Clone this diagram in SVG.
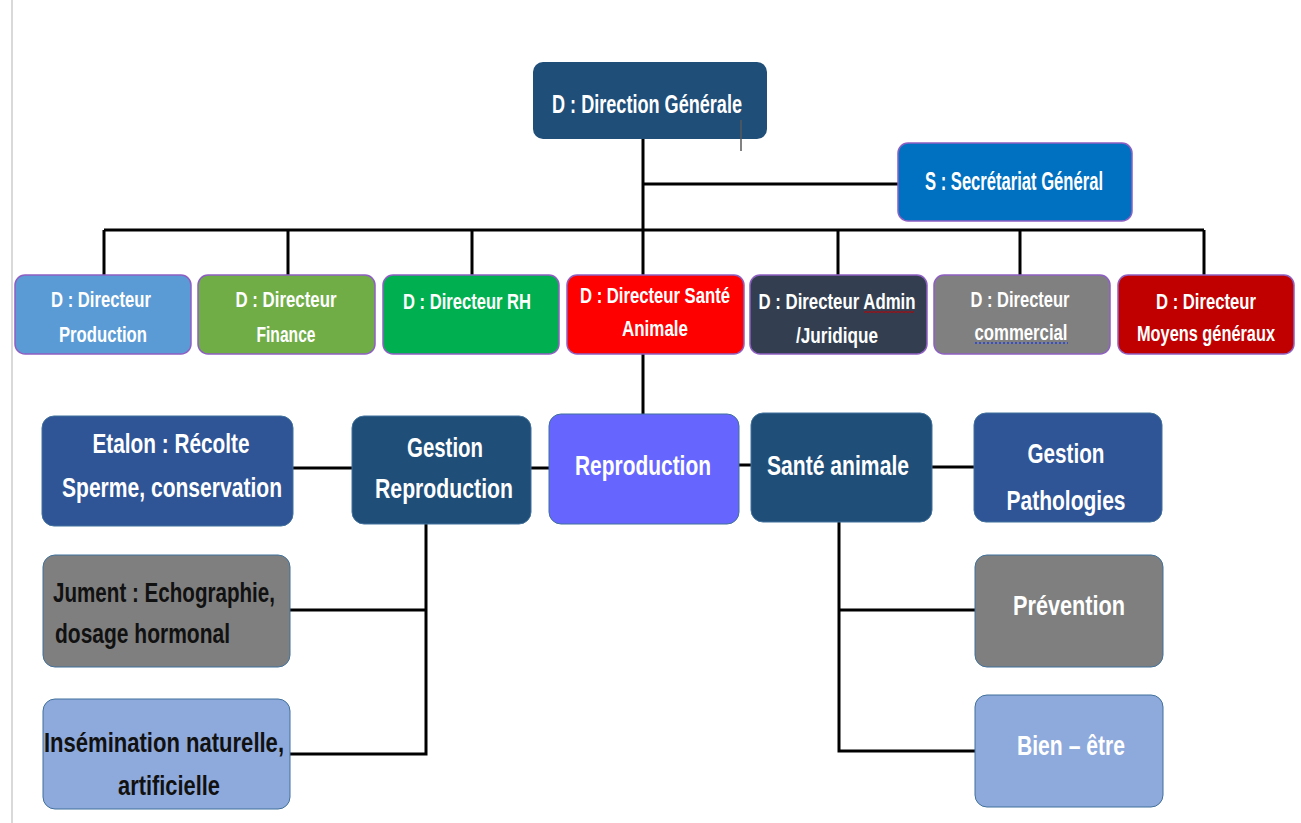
<svg xmlns="http://www.w3.org/2000/svg" width="1301" height="823" viewBox="0 0 1301 823">
<style>
text{font-family:"Liberation Sans",Arial,sans-serif;font-weight:bold;text-anchor:middle;fill:#fff}
.t{font-size:25px}
.s{font-size:22px}
.m{font-size:28px}
.dk{fill:#111}
.st{text-anchor:start}
.b2{stroke:#8e5fc2;stroke-width:1.5}
.b3{stroke:#41719c;stroke-width:1}
.c{stroke:#000;stroke-width:3;fill:none}
</style>
<rect width="1301" height="823" fill="#fff"/>
<line x1="12" y1="0" x2="12" y2="823" stroke="#d9d9d9" stroke-width="2"/>
<g id="connectors">
<path class="c" d="M643,139V230M643,184H898M104,230H1204M104,230V275M288,230V275M472,230V275M643,230V275M838,230V275M1020,230V275M1204,230V275"/>
<path class="c" d="M643,354V414M293,468H352M531,468H549M739,465H751M932,467H974"/>
<path class="c" d="M426,524V754H290M426,610H290M839,522V751H975M839,610H975"/>
</g>
<g id="n-dg"><rect x="533" y="62" width="234" height="77" rx="10" fill="#1f4e79"/><text class="t" x="647" y="113" textLength="190" lengthAdjust="spacingAndGlyphs">D : Direction Générale</text><line x1="741" y1="120" x2="741" y2="151" stroke="#595959" stroke-width="1.5"/></g>
<g id="n-sg"><rect x="898" y="143" width="234" height="78" rx="10" fill="#0070c0" class="b2"/><text class="t" x="1014" y="190" textLength="178" lengthAdjust="spacingAndGlyphs">S : Secrétariat Général</text></g>
<g id="n-prod"><rect x="15" y="275" width="176" height="79" rx="10" fill="#5b9bd5" class="b2"/><text class="s" x="101" y="307" textLength="100" lengthAdjust="spacingAndGlyphs">D : Directeur</text><text class="s" x="103" y="342" textLength="88" lengthAdjust="spacingAndGlyphs">Production</text></g>
<g id="n-fin"><rect x="198" y="275" width="177" height="79" rx="10" fill="#70ad47" class="b2"/><text class="s" x="286" y="307" textLength="101" lengthAdjust="spacingAndGlyphs">D : Directeur</text><text class="s" x="286" y="342" textLength="59" lengthAdjust="spacingAndGlyphs">Finance</text></g>
<g id="n-rh"><rect x="383" y="275" width="176" height="79" rx="10" fill="#00b050" class="b2"/><text class="s" x="467" y="309" textLength="128" lengthAdjust="spacingAndGlyphs">D : Directeur RH</text></g>
<g id="n-sante"><rect x="567" y="275" width="177" height="79" rx="10" fill="#ff0000" class="b2"/><text class="s" x="655" y="303" textLength="150" lengthAdjust="spacingAndGlyphs">D : Directeur Santé</text><text class="s" x="655" y="336" textLength="66" lengthAdjust="spacingAndGlyphs">Animale</text></g>
<g id="n-admin"><rect x="750" y="275" width="177" height="79" rx="10" fill="#333f50" class="b2"/><text class="s" x="837" y="309" textLength="157" lengthAdjust="spacingAndGlyphs">D : Directeur Admin</text><text class="s" x="837" y="343" textLength="82" lengthAdjust="spacingAndGlyphs">/Juridique</text><path d="M864,313l2,-2l2,2l2,-2l2,2l2,-2l2,2l2,-2l2,2l2,-2l2,2l2,-2l2,2l2,-2l2,2l2,-2l2,2l2,-2l2,2l2,-2l2,2l2,-2l2,2l2,-2l2,2l2,-2" fill="none" stroke="#c00000" stroke-width="1"/></g>
<g id="n-com"><rect x="934" y="275" width="176" height="79" rx="10" fill="#808080" class="b2"/><text class="s" x="1020" y="307" textLength="99" lengthAdjust="spacingAndGlyphs">D : Directeur</text><text class="s" x="1021" y="340" textLength="93" lengthAdjust="spacingAndGlyphs">commercial</text><line x1="975" y1="343" x2="1068" y2="343" stroke="#1f3fd8" stroke-width="1.5" stroke-dasharray="2,2"/></g>
<g id="n-moy"><rect x="1118" y="275" width="176" height="79" rx="10" fill="#c00000" class="b2"/><text class="s" x="1206" y="309" textLength="100" lengthAdjust="spacingAndGlyphs">D : Directeur</text><text class="s" x="1206" y="341" textLength="138" lengthAdjust="spacingAndGlyphs">Moyens généraux</text></g>
<g id="n-etalon"><rect x="42" y="416" width="251" height="110" rx="12" fill="#2f5597" class="b3"/><text class="m" x="171" y="453" textLength="157" lengthAdjust="spacingAndGlyphs">Etalon : Récolte</text><text class="m" x="172" y="497" textLength="220" lengthAdjust="spacingAndGlyphs">Sperme, conservation</text></g>
<g id="n-gestrep"><rect x="352" y="416" width="179" height="108" rx="12" fill="#1f4e79" class="b3"/><text class="m" x="445" y="457" textLength="76" lengthAdjust="spacingAndGlyphs">Gestion</text><text class="m" x="444" y="498" textLength="138" lengthAdjust="spacingAndGlyphs">Reproduction</text></g>
<g id="n-repro"><rect x="549" y="414" width="190" height="110" rx="12" fill="#6666ff" class="b3"/><text class="m" x="643" y="475" textLength="136" lengthAdjust="spacingAndGlyphs">Reproduction</text></g>
<g id="n-santeanim"><rect x="751" y="413" width="181" height="109" rx="12" fill="#1f4e79" class="b3"/><text class="m" x="838" y="475" textLength="142" lengthAdjust="spacingAndGlyphs">Santé animale</text></g>
<g id="n-patho"><rect x="974" y="413" width="188" height="109" rx="12" fill="#2f5597" class="b3"/><text class="m" x="1066" y="463" textLength="77" lengthAdjust="spacingAndGlyphs">Gestion</text><text class="m" x="1066" y="510" textLength="119" lengthAdjust="spacingAndGlyphs">Pathologies</text></g>
<g id="n-jument"><rect x="43" y="555" width="247" height="112" rx="12" fill="#7f7f7f" class="b3"/><text class="m dk st" x="53" y="602" textLength="222" lengthAdjust="spacingAndGlyphs">Jument : Echographie,</text><text class="m dk st" x="55" y="643" textLength="175" lengthAdjust="spacingAndGlyphs">dosage hormonal</text></g>
<g id="n-insem"><rect x="43" y="699" width="247" height="110" rx="12" fill="#8ea9db" class="b3"/><text class="m dk" x="164" y="752" textLength="240" lengthAdjust="spacingAndGlyphs">Insémination naturelle,</text><text class="m dk" x="169" y="795" textLength="102" lengthAdjust="spacingAndGlyphs">artificielle</text></g>
<g id="n-prev"><rect x="975" y="555" width="188" height="112" rx="12" fill="#7f7f7f" class="b3"/><text class="m" x="1069" y="615" textLength="112" lengthAdjust="spacingAndGlyphs">Prévention</text></g>
<g id="n-bien"><rect x="975" y="695" width="188" height="112" rx="12" fill="#8ea9db" class="b3"/><text class="m" x="1071" y="755" textLength="108" lengthAdjust="spacingAndGlyphs">Bien – être</text></g>
</svg>
